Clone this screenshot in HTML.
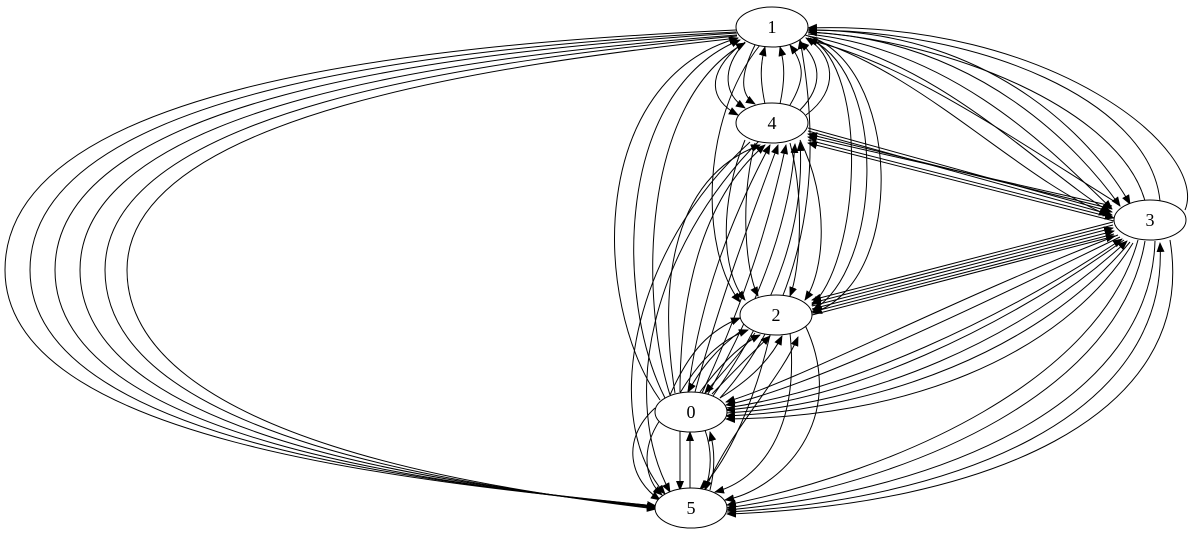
<!DOCTYPE html>
<html><head><meta charset="utf-8"><style>
html,body{margin:0;padding:0;background:#fff;width:1197px;height:539px;overflow:hidden}
text{font-family:"Liberation Serif",serif;font-size:18px}
</style></head><body>
<svg width="1197" height="539" viewBox="0 0 1197 539" xmlns="http://www.w3.org/2000/svg">
<defs><marker id="a" markerWidth="10" markerHeight="8" refX="9" refY="4" orient="auto" markerUnits="userSpaceOnUse"><path d="M0,0L10,4L0,8z" fill="#000"/></marker></defs>
<g fill="none" stroke="#000" stroke-width="1" marker-end="url(#a)">
<!-- left big loops 1-5 -->
<path d="M736,30 C400,45 5,90 5,270 C5,440 400,480 656,506"/>
<path d="M736,32 C420,48 30,95 30,270 C30,440 420,482 656,506"/>
<path d="M737,33 C440,52 55,100 55,270 C55,440 440,484 656,507"/>
<path d="M737,35 C460,56 80,105 80,270 C80,440 460,486 656,507"/>
<path d="M737,36 C480,60 105,110 105,270 C105,440 480,488 656,508"/>
<path d="M738,38 C500,64 127,115 127,270 C127,440 500,490 656,509"/>
<!-- 1-4 short -->
<path d="M745,42 C720,70 725,95 745,108"/>
<path d="M755,45 C740,75 740,95 755,104"/>
<path d="M765,104 C760,80 760,65 765,47"/>
<path d="M780,104 C785,80 785,65 780,47"/>
<path d="M790,105 C805,80 805,65 790,45"/>
<path d="M800,110 C825,85 820,60 800,42"/>
<path d="M740,45 C705,75 710,100 738,115"/>
<path d="M806,115 C840,90 835,55 806,38"/>
<!-- 0 to 1 / 4 -->
<path d="M660,400 C590,300 590,80 738,38"/>
<path d="M665,398 C615,300 615,90 740,40"/>
<path d="M670,395 C640,300 640,100 745,43"/>
<path d="M675,393 C660,300 665,180 760,145"/>
<path d="M680,392 C680,300 700,200 765,145"/>
<path d="M688,392 C700,300 730,220 770,145"/>
<path d="M695,392 C720,300 750,220 778,145"/>
<path d="M702,393 C745,300 770,220 786,145"/>
<path d="M708,394 C760,300 790,220 795,144"/>
<path d="M713,396 C780,300 805,220 800,142"/>
<path d="M720,398 C790,320 830,200 800,40"/>
<!-- 4 / 1 to 2 -->
<path d="M745,140 C720,200 720,270 745,300"/>
<path d="M755,143 C740,200 745,270 758,296"/>
<path d="M790,143 C805,200 800,270 790,296"/>
<path d="M800,140 C830,200 825,270 805,300"/>
<path d="M810,38 C870,70 860,260 812,305"/>
<path d="M812,40 C890,80 880,270 813,310"/>
<path d="M805,35 C900,60 910,280 813,313"/>
<path d="M760,45 C700,120 700,250 740,302"/>
<!-- 1 to 3 -->
<path d="M808,30 C1000,30 1100,150 1130,204"/>
<path d="M808,32 C980,40 1080,150 1120,206"/>
<path d="M808,34 C960,50 1060,160 1112,209"/>
<path d="M808,36 C940,60 1040,170 1110,212"/>
<path d="M808,38 C920,70 1020,180 1108,215"/>
<path d="M1120,205 C1000,130 900,60 808,40"/>
<path d="M1145,201 C1120,110 950,40 808,32"/>
<path d="M1160,201 C1150,100 980,30 808,30"/>
<path d="M1185,210 C1210,150 1050,20 808,28"/>
<!-- 4-3 bundle -->
<path d="M808,128 L1112,212"/>
<path d="M808,131 L1112,215"/>
<path d="M1112,209 L808,134"/>
<path d="M1112,206 L808,137"/>
<path d="M808,140 L1114,218"/>
<path d="M1114,221 L808,143"/>
<!-- 3-2 bundle -->
<path d="M1113,222 L812,300"/>
<path d="M1113,225 L812,303"/>
<path d="M812,306 L1113,228"/>
<path d="M812,309 L1114,231"/>
<path d="M1114,234 L812,312"/>
<path d="M812,315 L1115,236"/>
<!-- 3-0 bundle -->
<path d="M1118,235 C950,300 800,380 726,402"/>
<path d="M1120,237 C950,320 800,390 726,405"/>
<path d="M726,408 C850,390 1000,320 1122,239"/>
<path d="M1124,240 C1000,330 850,400 726,410"/>
<path d="M726,413 C870,405 1020,340 1127,241"/>
<path d="M1130,242 C1040,350 880,410 726,416"/>
<path d="M1133,243 C1060,360 900,418 726,419"/>
<!-- 3-5 -->
<path d="M1138,240 C1100,380 900,470 727,505"/>
<path d="M1145,241 C1120,390 920,480 727,508"/>
<path d="M1155,241 C1150,400 950,490 727,510"/>
<path d="M727,512 C950,500 1170,420 1160,243"/>
<path d="M1170,240 C1200,420 980,505 727,514"/>
<!-- 0-2 -->
<path d="M670,395 C690,350 710,330 740,318"/>
<path d="M680,393 C700,360 720,340 748,330"/>
<path d="M700,392 C720,365 740,345 760,335"/>
<path d="M712,394 C735,370 755,350 770,336"/>
<path d="M720,398 C750,380 770,360 782,336"/>
<path d="M742,330 C715,350 700,370 688,392"/>
<path d="M755,333 C735,360 720,375 705,393"/>
<!-- 2-5 / 0-5 -->
<path d="M770,335 C750,420 720,470 700,489"/>
<path d="M790,333 C800,430 760,480 715,492"/>
<path d="M805,325 C850,420 780,490 725,500"/>
<path d="M705,490 C730,430 780,380 798,337"/>
<path d="M680,430 L680,490"/>
<path d="M690,490 L690,432"/>
<path d="M705,430 C712,450 712,470 705,490"/>
<path d="M710,490 C715,470 715,450 710,432"/>
<path d="M660,420 C640,450 645,480 662,495"/>
<path d="M655,408 C620,440 630,480 660,500"/>
<path d="M760,140 C650,250 620,400 670,492"/>
<path d="M750,142 C630,250 600,420 665,494"/>
</g>
<g fill="#fff" stroke="#000">
<ellipse cx="772" cy="27" rx="36" ry="20"/>
<ellipse cx="772" cy="123" rx="36" ry="20"/>
<ellipse cx="1150" cy="220" rx="36" ry="20"/>
<ellipse cx="776" cy="315" rx="36" ry="20"/>
<ellipse cx="691" cy="412" rx="36" ry="20"/>
<ellipse cx="691" cy="508" rx="36" ry="20"/>
</g>
<g text-anchor="middle">
<text x="772" y="33">1</text><text x="772" y="129">4</text><text x="1150" y="226">3</text>
<text x="776" y="321">2</text><text x="691" y="418">0</text><text x="691" y="514">5</text>
</g>
</svg>
</body></html>
